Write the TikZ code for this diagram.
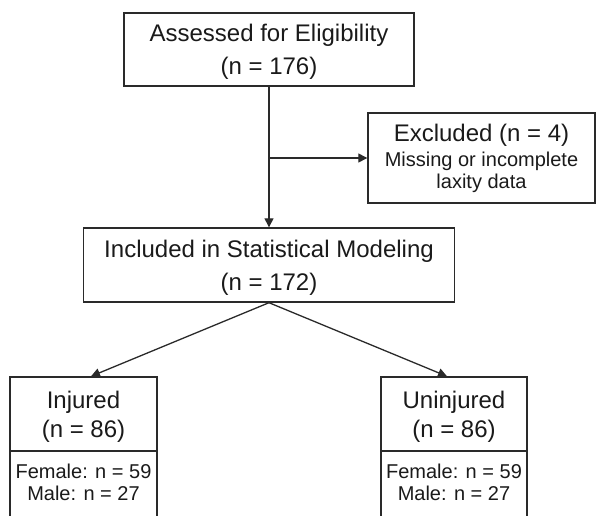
\documentclass[tikz,border=0pt]{standalone}
\usepackage{fontspec}
\setmainfont{Liberation Sans}
\usetikzlibrary{arrows.meta}
\definecolor{linec}{HTML}{2A2A2A}
\definecolor{textc}{HTML}{1A1A1A}
\newcommand{\topstrut}{\rule{0pt}{22.5pt}}
\newcommand{\botstrut}{\rule[-4pt]{0pt}{4pt}}
\begin{document}
\begin{tikzpicture}[x=1pt,y=-1pt,
  box/.style={draw=linec, line width=1.4pt, rectangle, inner sep=0pt, align=center, text=textc},
  big/.style={font=\fontsize{24}{33}\selectfont},
  mid/.style={font=\fontsize{24}{29}\selectfont},
  small/.style={font=\fontsize{20}{22}\selectfont},
  conn/.style={draw=linec, line width=1.3pt, -{Triangle[length=9pt,width=9pt]}}]
\useasboundingbox (0,0) rectangle (597,515);
\clip (0,0) rectangle (597,515);
\node[box,big,minimum width=290pt,minimum height=73pt] (assess) at (269,49.5) {\topstrut Assessed for Eligibility\\(n = 176)};
\node[box,small,minimum width=227pt,minimum height=90pt] (excl) at (481.5,158) {{\fontsize{24}{24}\selectfont Excluded (n = 4)}\\[3pt]Missing or incomplete\\laxity data};
\node[box,big,minimum width=371pt,minimum height=74pt] (incl) at (269,265) {\topstrut Included in Statistical Modeling\\(n = 172)};
\node[box,mid,minimum width=147pt,minimum height=74pt] (injtop) at (83.5,414) {\topstrut Injured\\(n = 86)};
\node[box,small,minimum width=147pt,minimum height=66pt] (injbot) at (83.5,484) {Female: n = 59\\Male: n = 27\botstrut};
\node[box,mid,minimum width=146pt,minimum height=74pt] (uninjtop) at (454,414) {\topstrut Uninjured\\(n = 86)};
\node[box,small,minimum width=146pt,minimum height=66pt] (uninjbot) at (454,484) {Female: n = 59\\Male: n = 27\botstrut};
\coordinate (br) at (assess.south |- excl.west);
\draw[conn] (assess.south) -- (incl.north);
\draw[conn] (br) -- (excl.west);
\draw[conn] (incl.south) -- ([xshift=7.5pt]injtop.north);
\draw[conn] (incl.south) -- ([xshift=-7pt]uninjtop.north);
\end{tikzpicture}
\end{document}
